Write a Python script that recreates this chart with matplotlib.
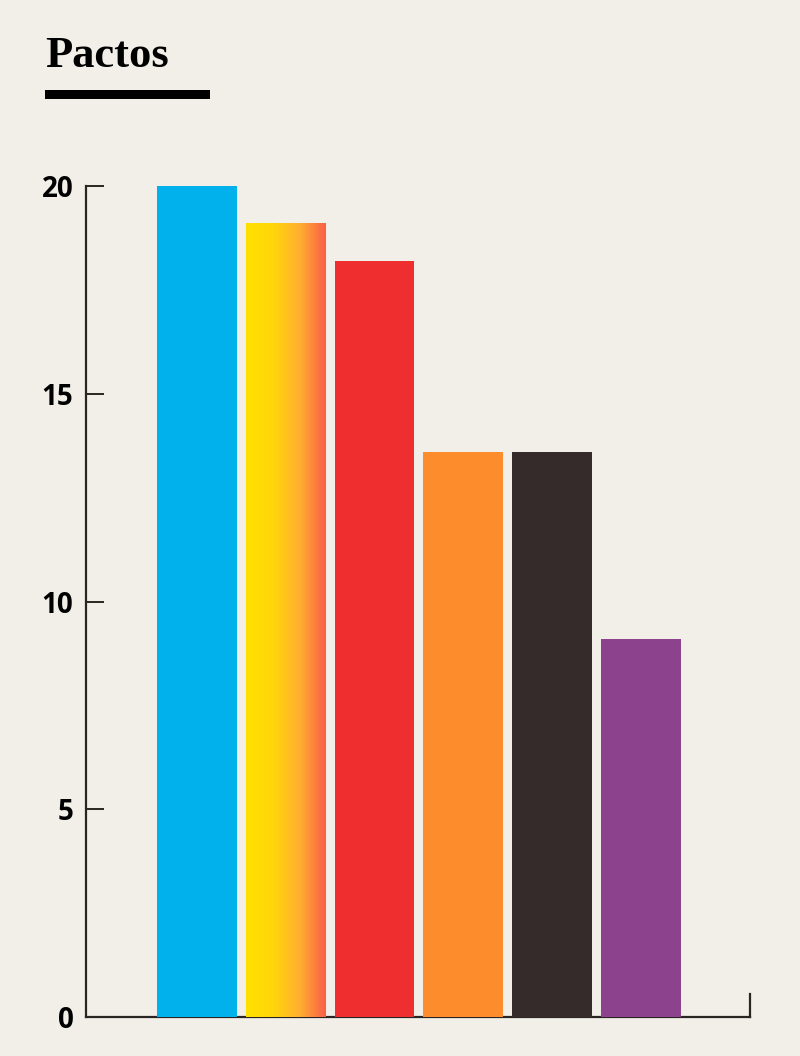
import matplotlib.pyplot as plt
import numpy as np
from matplotlib.colors import LinearSegmentedColormap
from matplotlib.patches import Rectangle

# valores
valores = [20, 19.1, 18.2, 13.6, 13.6, 9.1]
colores = ['#00b1eb', '#ffde00', '#ee2e2f', '#fc8c2c', '#342b2a', '#8d428d']
ticks_y = [0, 5, 10, 15, 20]
fondo = '#f2efe8'

fig = plt.figure(figsize=(8, 10.56), dpi=100, facecolor=fondo)
ax = fig.add_axes([0.1075, 0.0369, 0.83, 0.8066])
ax.set_facecolor(fondo)

x = np.arange(len(valores))
barras = ax.bar(x, valores, width=0.9, color=colores, zorder=3)

# la segunda barra lleva un degradado amarillo -> rojo
grad = LinearSegmentedColormap.from_list('g', ['#ffe000', '#ffd60a', '#ffb030', '#fb5e48'])
b = barras[1]
img = ax.imshow(np.linspace(0, 1, 256).reshape(1, -1), cmap=grad, aspect='auto',
                extent=[b.get_x(), b.get_x() + b.get_width(), 0, b.get_height()], zorder=4)
img.set_clip_path(b)

ax.set_xlim(-1.25, 6.23)
ax.set_ylim(0, 20.5)

ax.spines['top'].set_visible(False)
ax.spines['left'].set_bounds(0, 20)
ax.spines['right'].set_bounds(0, 0.55)
for s in ['left', 'right', 'bottom']:
    ax.spines[s].set_linewidth(1.6)
    ax.spines[s].set_color('#2a2422')

ax.set_xticks([])
ax.set_yticks(ticks_y)
ax.set_yticklabels([str(t) for t in ticks_y], fontfamily='Open Sans', fontweight='bold', fontsize=20)
ax.tick_params(axis='y', direction='in', length=13, width=1.4, color='#2a2422', pad=9)

fig.text(0.056, 0.9366, 'Pactos', fontfamily='Liberation Serif', fontweight='bold',
         fontsize=32, va='baseline', ha='left')
fig.add_artist(Rectangle((0.056, 0.9062), 0.206, 0.0085, transform=fig.transFigure,
                         color='black', lw=0))

plt.savefig('out.png', facecolor=fondo)
